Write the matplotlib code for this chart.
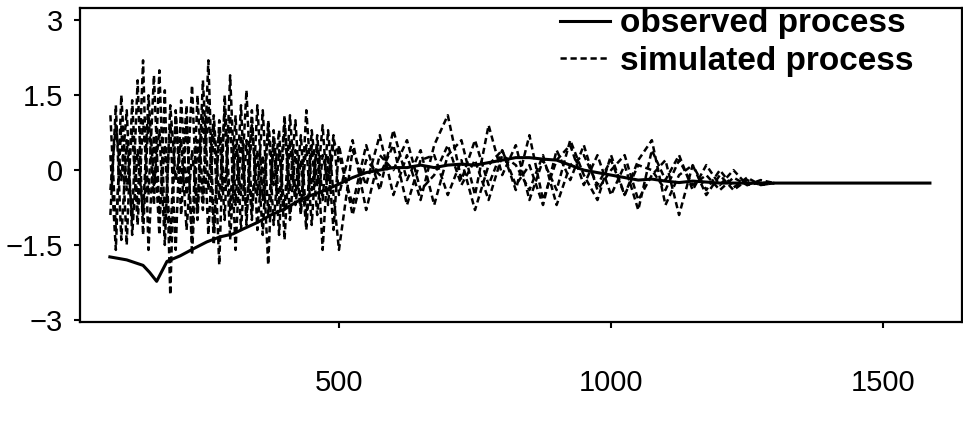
import numpy as np
import matplotlib
matplotlib.use('Agg')
import matplotlib.pyplot as plt

# observed process (solid)
t_obs = [79, 110, 140, 152, 165, 184, 208, 232, 257, 281, 305, 324, 350, 375, 400,
         425, 450, 475, 500, 525, 550, 575, 600, 625, 650, 675, 700, 725, 750, 775,
         800, 825, 850, 875, 900, 925, 950, 975, 1000, 1025, 1050, 1075, 1100, 1125,
         1150, 1175, 1200, 1250, 1300, 1350, 1400, 1450, 1500, 1550, 1586]
y_obs = [-1.74, -1.80, -1.91, -2.05, -2.23, -1.83, -1.72, -1.58, -1.44, -1.34, -1.28, -1.18,
         -1.05, -0.90, -0.78, -0.62, -0.50, -0.40, -0.28, -0.15, -0.05, 0.0, 0.05, 0.05, 0.10,
         0.05, 0.10, 0.12, 0.10, 0.15, 0.20, 0.25, 0.25, 0.22, 0.20, 0.10, 0.0, -0.05, -0.10,
         -0.15, -0.20, -0.18, -0.22, -0.25, -0.22, -0.24, -0.26, -0.26, -0.26, -0.26, -0.26,
         -0.26, -0.26, -0.26, -0.26]

# simulated processes (dashed): sampled every 10 early on, every 25 later
t_sim = list(range(80, 500, 10)) + list(range(500, 1301, 25))

sim_a = [1.1, -1.2, 0.9, -1.5, 1.4, -0.8, 2.2, -1.6, 0.7, -1.3, 1.6, -2.5, 1.2, -0.9,
         1.0, -1.4, 1.5, -0.6, 2.2, -1.2, 0.8, -1.0, 1.9, -0.7, 1.3, -1.1, 0.9, -0.5,
         1.2, -0.9, 0.6, -1.3, 0.9, -0.4, 1.0, -0.8, 0.5, -1.1, 0.7, -0.6, 0.8, -0.5,
         -1.6, 0.4, -0.3, 0.7, -0.5, 0.3, -0.6, 0.5, 1.1, -0.2, 0.6, -0.3, 0.4, -0.4,
         0.7, -0.6, 0.2, 0.5, -0.3, 0.3, -0.5, 0.1, -0.8, 0.4, -0.2, 0.3, -0.4, 0.1,
         -0.3, 0.0, -0.3, -0.2, -0.26]
sim_b = [-0.9, 1.3, -1.4, 0.6, -1.0, 1.8, -1.3, 1.1, -0.7, 2.0, -1.1, 0.9, -1.6, 1.4,
         -0.5, 1.7, -1.0, 1.2, -1.3, 0.9, -1.9, 1.5, -0.8, 1.1, -1.2, 0.6, -1.0, 1.3,
         -0.6, 0.9, -1.1, 0.4, -0.8, 1.1, -0.5, 0.7, -1.0, 0.8, -0.3, 0.9, -0.7, 0.6,
         0.3, -0.7, 0.5, -0.4, 0.8, -0.2, 0.4, -0.7, 0.3, 0.6, -0.5, 0.9, -0.1, 0.5,
         -0.6, 0.2, -0.4, 0.6, -0.1, -0.6, 0.3, -0.5, 0.2, 0.6, -0.7, -0.1, 0.1, -0.5,
         -0.1, -0.4, -0.2, -0.3, -0.26]
sim_c = [0.3, -1.6, 1.5, -0.4, 0.8, -1.1, 1.0, -0.5, 1.9, -0.9, 0.5, -1.4, 1.1, -0.3,
         1.3, -1.7, 0.6, -0.8, 1.4, -1.5, 1.0, -0.4, 1.1, -1.6, 0.7, -0.9, 1.2, -1.2,
         0.3, -1.9, 0.8, -0.7, 1.1, -1.0, 0.4, -0.9, 1.2, -0.4, 0.5, -1.6, 0.3, -1.2,
         0.5, -0.9, 0.2, -0.1, 0.5, -0.7, 0.2, 0.3, -0.5, 0.2, -0.8, 0.1, 0.4, -0.3,
         0.1, -0.7, 0.4, -0.2, 0.5, -0.4, 0.0, 0.3, -0.6, -0.1, 0.2, -0.9, 0.1, -0.4,
         0.0, -0.35, -0.15, -0.3, -0.26]
sim_d = [-0.4, 0.9, -0.2, 1.2, -1.3, 0.4, -0.9, 1.5, -0.3, 0.8, -1.5, 1.3, -0.2, 0.6,
         -1.2, 0.4, -0.8, 1.8, -0.4, 1.1, -0.6, 1.2, -1.4, 0.5, -0.5, 1.6, -0.8, 0.4,
         -1.3, 1.0, -0.3, 0.8, -1.4, 0.6, -0.7, 0.2, -1.2, 0.5, -0.9, 0.3, -0.2, 0.7,
         -0.5, 0.6, -0.8, 0.3, 0.0, 0.6, -0.4, -0.1, 0.5, -0.3, 0.2, -0.6, 0.3, 0.1,
         -0.4, 0.3, -0.7, 0.1, 0.3, -0.3, 0.2, -0.5, 0.1, 0.0, -0.4, 0.2, -0.3, -0.1,
         -0.4, -0.15, -0.3, -0.25, -0.26]

yticks = [3, 1.5, 0, -1.5, -3]
ytick_labels = ['3', '1.5', '0', '\u22121.5', '\u22123']
xticks = [500, 1000, 1500]

num_font = ['Liberation Sans', 'DejaVu Sans']

fig = plt.figure(figsize=(9.63, 4.24), dpi=100)
ax = fig.add_axes([0.083, 0.24, 0.916, 0.74])

dash = (0, (2.5, 1.5))
for s in (sim_a, sim_b, sim_c, sim_d):
    ax.plot(t_sim, s, color='black', lw=1.8, linestyle=dash)
ax.plot(t_sim[:1], sim_a[:1], color='black', lw=1.8, linestyle=dash, label='simulated process')
ax.plot(t_obs, y_obs, color='black', lw=2.2, label='observed process')

ax.set_xlim(24, 1645)
ax.set_ylim(-3.05, 3.24)
ax.set_yticks(yticks)
ax.set_yticklabels(ytick_labels, fontsize=21, family=num_font)
ax.set_xticks(xticks)
ax.set_xticklabels([str(v) for v in xticks], fontsize=21, family=num_font)
ax.tick_params(axis='y', direction='out', length=4, width=1.5, pad=8)
ax.tick_params(axis='x', direction='out', length=4, width=1.5, pad=30)
for sp in ax.spines.values():
    sp.set_linewidth(1.6)

h, l = ax.get_legend_handles_labels()
ax.legend(h[::-1], l[::-1], loc='upper right', bbox_to_anchor=(0.945, 1.0),
          frameon=False, handlelength=1.5, handletextpad=0.3, labelspacing=0.2,
          borderpad=0, borderaxespad=0,
          prop={'family': num_font, 'weight': 'bold', 'size': 24})

fig.savefig('out.png', dpi=100)
